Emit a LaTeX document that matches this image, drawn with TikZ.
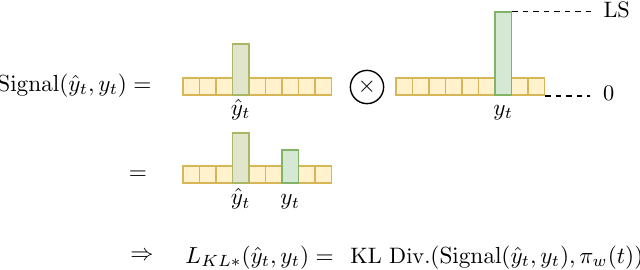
\documentclass[tikz,border=0pt]{standalone}
\usepackage{amsmath,amssymb}
\usepackage{tikz}
\usetikzlibrary{positioning,calc}
\definecolor{cellfill}{HTML}{FFF2CC}
\definecolor{celldraw}{HTML}{D6B656}
\definecolor{predfill}{HTML}{E1E5CB}
\definecolor{preddraw}{HTML}{ABB765}
\definecolor{trufill}{HTML}{D5E8D4}
\definecolor{trudraw}{HTML}{82B366}
\tikzset{
  figfont/.style={font=\fontsize{9.6pt}{11.5pt}\selectfont},
  figtext/.style={inner sep=0pt},
  figcell/.style={draw=celldraw, fill=cellfill, line width=0.85pt,
    minimum width=7.1pt, minimum height=7.44pt, inner sep=0pt},
  figpred/.style={figcell, draw=preddraw, fill=predfill, anchor=south},
  figtrue/.style={figcell, draw=trudraw, fill=trufill, anchor=south},
  figlevel/.style={dash pattern=on 2.3pt off 2.2pt, line width=0.5pt},
}

\begin{document}
\begin{tikzpicture}[x=0.43pt,y=-0.43pt,figfont]
		\useasboundingbox (0,0) rectangle (640,269);

		% Row 1: signal = prediction (x) smoothed target
		\node[figtext, anchor=base east] (sig) at (152,91) {$\mathrm{Signal}(\hat{y}_t, y_t) =$};
		\foreach \i in {0,...,8}
			\node[figcell] (p\i) at (191.25+16.5*\i,86.35) {};
		\node[figpred, minimum height=21.8pt] (pred) at (p3.south) {};
		\node[figtext, anchor=base] (predlab) at ($(pred.south)+(0,19)$) {$\hat{y}_t$};

		\node[draw, circle, minimum size=14.3pt, inner sep=0pt, line width=0.6pt] (times) at (367,87) {$\times$};

		\foreach \i in {0,...,8}
			\node[figcell] (q\i) at (404.25+16.5*\i,86.35) {};
		\node[figtrue, minimum height=35.6pt] (tru) at (q6.south) {};
		\node[figtext, anchor=base] (trulab) at ($(tru.south)+(0,19)$) {$y_t$};

		% Levels of the target
		\path (tru.north east) ++(81.5,0) coordinate (lsend);
		\path (q8.south east) ++(44.5,0) coordinate (zeroend);
		\draw[figlevel] (tru.north east) -- (lsend);
		\draw[figlevel] (q8.south east) -- (zeroend);
		\node[figtext, right=3.9pt of lsend, yshift=0.6pt] (ls) {LS};
		\node[figtext, right=5.4pt of zeroend, yshift=1pt] (zero) {0};

		% Row 2: resulting signal
		\node[figtext] (eq) at (138,175.7) {$=$};
		\foreach \i in {0,...,8}
			\node[figcell] (r\i) at (191.25+16.5*\i,174.65) {};
		\node[figpred, minimum height=21.5pt] (rpred) at (r3.south) {};
		\node[figtrue, minimum height=14.3pt] (rtru) at (r6.south) {};
		\node[figtext, anchor=base] (rpredlab) at ($(rpred.south)+(0,20.7)$) {$\hat{y}_t$};
		\node[figtext, anchor=base] (rtrulab) at ($(rtru.south)+(0,20.7)$) {$y_t$};

		% Row 3: loss
		\node[figtext] (impl) at (142,256.7) {$\Rightarrow$};
		\node[figtext, anchor=base west] (loss) at (185,263) {$L_{KL*}(\hat{y}_t, y_t) =$};
		\node[figtext, anchor=base west] (kl) at (350,263)
		{$\text{KL Div.}(\mathrm{Signal}(\hat{y}_t, y_t), \pi_w(t))$};
	\end{tikzpicture}
\end{document}
